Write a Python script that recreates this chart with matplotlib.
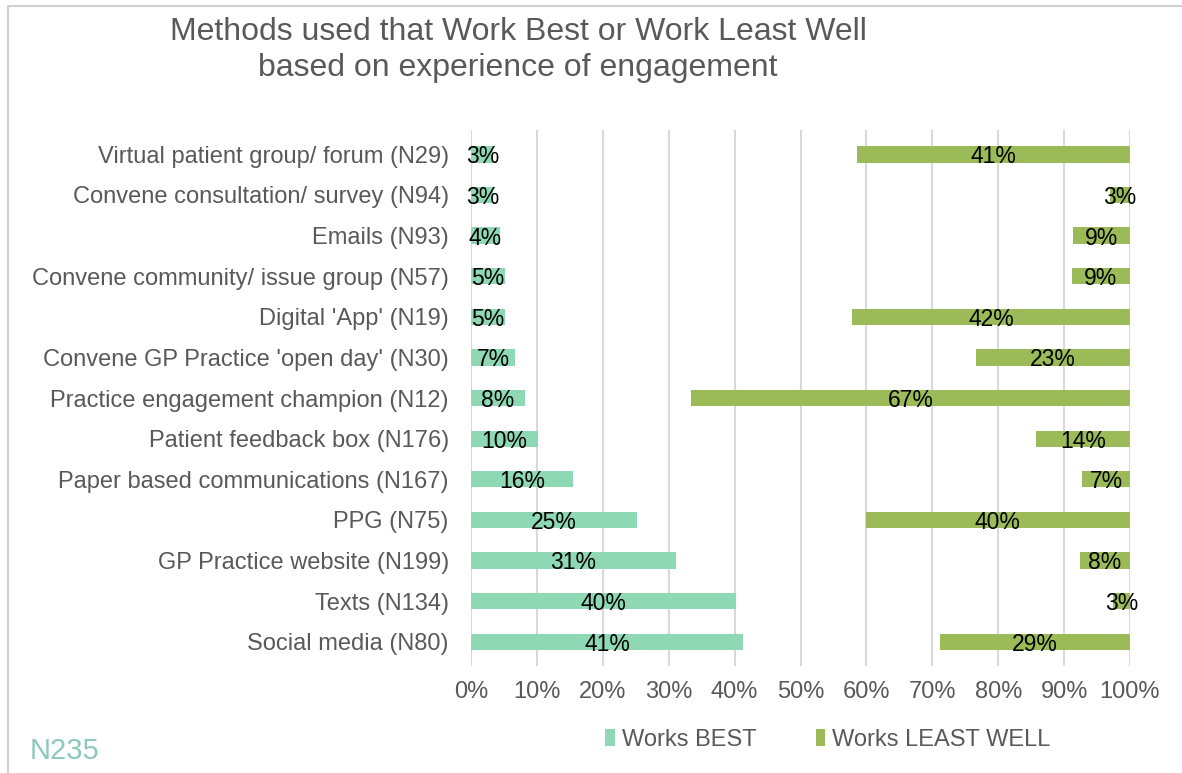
import matplotlib.pyplot as plt
import numpy as np
from matplotlib.patches import Rectangle

plt.rcParams['font.family'] = ['Liberation Sans', 'DejaVu Sans']

# data, top to bottom as shown
methods = [
    "Virtual patient group/ forum (N29)",
    "Convene consultation/ survey (N94)",
    "Emails (N93)",
    "Convene community/ issue group (N57)",
    "Digital 'App' (N19)",
    "Convene GP Practice 'open day' (N30)",
    "Practice engagement champion (N12)",
    "Patient feedback box (N176)",
    "Paper based communications (N167)",
    "PPG (N75)",
    "GP Practice website (N199)",
    "Texts (N134)",
    "Social media (N80)",
]
works_best = [0.034, 0.034, 0.044, 0.052, 0.052, 0.067, 0.082, 0.102, 0.155, 0.252, 0.311, 0.402, 0.413]
works_least = [0.414, 0.030, 0.086, 0.088, 0.422, 0.234, 0.666, 0.143, 0.073, 0.401, 0.076, 0.026, 0.288]
ticks = np.arange(0, 1.01, 0.1)

best_col = '#8ed8b4'
least_col = '#9bbb59'
grey = '#595959'

fig = plt.figure(figsize=(11.82, 7.73), dpi=100)
fig.patches.append(Rectangle((8 / 1182, -0.1), 1.2, 1 - 6 / 773 + 0.1, transform=fig.transFigure,
                             fill=False, edgecolor='#d0d0d0', lw=1.5))
ax = fig.add_axes([0.3985, 0.1384, 0.5575, 0.6934])

y = np.arange(len(methods))
best = np.array(works_best)
least = np.array(works_least)
middle = 1 - best - least

b1 = ax.barh(y, best, height=0.4, color=best_col, label='Works BEST', zorder=2)
ax.barh(y, middle, left=best, height=0.4, color='none', zorder=2)
b3 = ax.barh(y, least, left=best + middle, height=0.4, color=least_col, label='Works LEAST WELL', zorder=2)

for i in range(len(methods)):
    ax.text(best[i] / 2, y[i], f"{best[i]:.0%}", ha='center', va='center_baseline', fontsize=16.5,
            color='black', zorder=3)
    ax.text(1 - least[i] / 2, y[i], f"{least[i]:.0%}", ha='center', va='center_baseline', fontsize=16.5,
            color='black', zorder=3)

ax.set_ylim(len(methods) - 0.4, -0.6)
ax.set_xlim(0, 1)
ax.set_yticks(y)
ax.set_yticklabels(methods, fontsize=17, color=grey)
ax.set_xticks(ticks)
ax.set_xticklabels([f"{t:.0%}" for t in ticks], fontsize=17, color=grey)
ax.tick_params(axis='both', length=0)
ax.tick_params(axis='y', pad=16)
ax.tick_params(axis='x', pad=11)
ax.grid(axis='x', color='#d9d9d9', lw=1.5, zorder=0)
for s in ax.spines.values():
    s.set_visible(False)

fig.text(518 / 1182, 1 - 50 / 773, "Methods used that Work Best or Work Least Well\nbased on experience of engagement",
         ha='center', va='center', fontsize=23, color=grey, linespacing=1.3)

fig.legend(handles=[b1, b3], loc='center', bbox_to_anchor=(828 / 1182, 1 - 740 / 773), ncol=2,
           frameon=False, fontsize=17, handlelength=0.4, handleheight=0.7, handletextpad=0.3,
           columnspacing=2.5, labelcolor=grey)

fig.text(30 / 1182, 1 - 751 / 773, "N235", ha='left', va='center', fontsize=21, color='#8cc8bc')

fig.savefig('out.png', dpi=100)
